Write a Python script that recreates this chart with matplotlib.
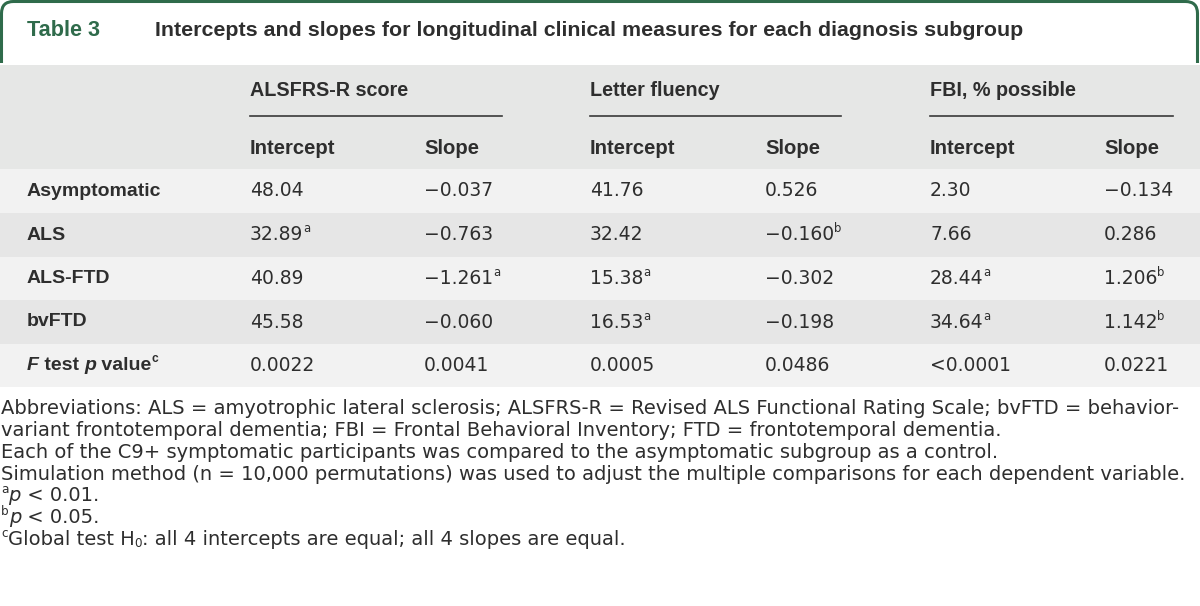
import matplotlib
matplotlib.use("Agg")
import matplotlib.pyplot as plt
from matplotlib.patches import FancyBboxPatch, Rectangle

# table content
title_tag = "Table 3"
title = "Intercepts and slopes for longitudinal clinical measures for each diagnosis subgroup"
groups = ["ALSFRS-R score", "Letter fluency", "FBI, % possible"]
subcols = ["Intercept", "Slope"]
rows = ["Asymptomatic", "ALS", "ALS-FTD", "bvFTD"]
# values with footnote marks (value, mark)
alsfrs_int = [("48.04", ""), ("32.89", "a"), ("40.89", ""), ("45.58", "")]
alsfrs_slope = [("\u22120.037", ""), ("\u22120.763", ""), ("\u22121.261", "a"), ("\u22120.060", "")]
letter_int = [("41.76", ""), ("32.42", ""), ("15.38", "a"), ("16.53", "a")]
letter_slope = [("0.526", ""), ("\u22120.160", "b"), ("\u22120.302", ""), ("\u22120.198", "")]
fbi_int = [("2.30", ""), ("7.66", ""), ("28.44", "a"), ("34.64", "a")]
fbi_slope = [("\u22120.134", ""), ("0.286", ""), ("1.206", "b"), ("1.142", "b")]
ftest = ["0.0022", "0.0041", "0.0005", "0.0486", "<0.0001", "0.0221"]

GREEN = "#2f6b4b"
TXT = "#2e2e2e"
BOLDFONT = "Liberation Sans"
FONT = "DejaVu Sans"

fig = plt.figure(figsize=(12, 6.06), dpi=100)
ax = fig.add_axes([0, 0, 1, 1])
ax.set_xlim(0, 1200)
ax.set_ylim(606, 0)
ax.axis("off")
rend = fig.canvas.get_renderer()


def run(x, y, parts, size=13.5, weight="normal", color=TXT, family=FONT):
    # draw text pieces one after another, supports sup/sub and italics
    for s, st in parts:
        fs, dy, style = size, 0, "normal"
        if "sup" in st:
            fs, dy = size * 0.62, -6
        if "sub" in st:
            fs, dy = size * 0.62, 4
        if "it" in st:
            style = "italic"
        t = ax.text(x, y + dy, s, fontsize=fs, fontweight=weight, fontstyle=style,
                    color=color, family=family, va="center", ha="left", zorder=4)
        bb = t.get_window_extent(rend)
        x += bb.width
    return x


# title box
box = FancyBboxPatch((1.5, 1.5), 1196, 100, boxstyle="round,pad=0,rounding_size=12",
                     fc="white", ec=GREEN, lw=2.2)
ax.add_patch(box)
ax.add_patch(Rectangle((0, 63), 1200, 3, fc="white", ec="none", zorder=2))
run(27, 31, [(title_tag, "")], size=15.6, weight="bold", color=GREEN, family=BOLDFONT)
run(155, 31, [(title, "")], size=15.4, weight="bold", color=TXT, family=BOLDFONT)

# header
ax.add_patch(Rectangle((0, 65), 1200, 104, fc="#e6e7e6", ec="none", zorder=2))
col_x = [250, 424, 590, 765, 930, 1104]
line_end = [502, 841, 1173]
for g in range(3):
    run(col_x[2 * g], 91, [(groups[g], "")], size=14.2, weight="bold", family=BOLDFONT)
    ax.plot([col_x[2 * g], line_end[g]], [116, 116], color="#3a3a3a", lw=1.2, zorder=3)
    for k in range(2):
        run(col_x[2 * g + k], 148, [(subcols[k], "")], size=14.6, weight="bold", family=BOLDFONT)

# body rows
row_top = [169, 213, 257, 300, 344]
row_h = [44, 44, 43, 44, 43]
shades = ["#f2f2f2", "#e6e6e6", "#f2f2f2", "#e6e6e6", "#f2f2f2"]
for i in range(5):
    ax.add_patch(Rectangle((0, row_top[i]), 1200, row_h[i], fc=shades[i], ec="none", zorder=1))

cols = [alsfrs_int, alsfrs_slope, letter_int, letter_slope, fbi_int, fbi_slope]
for i, name in enumerate(rows):
    yc = row_top[i] + row_h[i] / 2
    run(27, yc, [(name, "")], size=14, weight="bold", family=BOLDFONT)
    for c in range(6):
        v, m = cols[c][i]
        parts = [(v, "")]
        if m:
            parts.append((m, "sup"))
        run(col_x[c], yc, parts)

yc = row_top[4] + row_h[4] / 2
run(27, yc, [("F", "it"), (" test ", ""), ("p", "it"), (" value", ""), ("c", "sup")],
    size=14, weight="bold", family=BOLDFONT)
for c in range(6):
    run(col_x[c], yc, [(ftest[c], "")])

# footnotes
FS = 14
lh = 21.7
y0 = 409
run(1, y0, [("Abbreviations: ALS = amyotrophic lateral sclerosis; ALSFRS-R = Revised ALS Functional Rating Scale; bvFTD = behavior-", "")], size=FS)
run(1, y0 + lh, [("variant frontotemporal dementia; FBI = Frontal Behavioral Inventory; FTD = frontotemporal dementia.", "")], size=FS)
run(1, y0 + 2 * lh, [("Each of the C9+ symptomatic participants was compared to the asymptomatic subgroup as a control.", "")], size=FS)
run(1, y0 + 3 * lh, [("Simulation method (n = 10,000 permutations) was used to adjust the multiple comparisons for each dependent variable.", "")], size=FS)
run(1, y0 + 4 * lh, [("a", "sup"), ("p", "it"), (" < 0.01.", "")], size=FS)
run(1, y0 + 5 * lh, [("b", "sup"), ("p", "it"), (" < 0.05.", "")], size=FS)
run(1, y0 + 6 * lh, [("c", "sup"), ("Global test H", ""), ("0", "sub"),
                     (": all 4 intercepts are equal; all 4 slopes are equal.", "")], size=FS)

fig.savefig("out.png", dpi=100)
